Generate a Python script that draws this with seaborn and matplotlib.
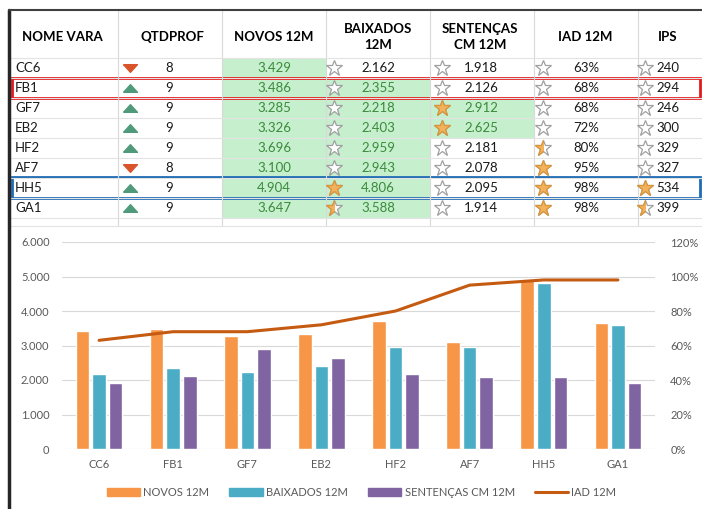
import numpy as np
import pandas as pd
import matplotlib
matplotlib.use("Agg")
import matplotlib.pyplot as plt
import seaborn as sns
from matplotlib.patches import Rectangle, Patch
from matplotlib.lines import Line2D
from matplotlib.ticker import FuncFormatter

sns.set_theme(style="white")
plt.rcParams['font.family'] = ['Lato', 'DejaVu Sans']

# dados da tabela
varas = ["CC6", "FB1", "GF7", "EB2", "HF2", "AF7", "HH5", "GA1"]
qtdprof = [8, 9, 9, 9, 9, 8, 9, 9]
novos = [3429, 3486, 3285, 3326, 3696, 3100, 4904, 3647]
baixados = [2162, 2355, 2218, 2403, 2959, 2943, 4806, 3588]
sentencas = [1918, 2126, 2912, 2625, 2181, 2078, 2095, 1914]
iad = [63, 68, 68, 72, 80, 95, 98, 98]
ips = [240, 294, 246, 300, 329, 327, 534, 399]

# estrelas: 0 vazia, 0.5 meia, 1 cheia
star_baixados = [0, 0, 0, 0, 0, 0, 1, 0.5]
star_sentencas = [0, 0, 1, 1, 0, 0, 0, 0]
star_iad = [0, 0, 0, 0, 0.5, 1, 1, 1]
star_ips = [0, 0, 0, 0, 0, 0, 1, 0.5]

# celulas em verde
verde_novos = [1, 1, 1, 1, 1, 1, 1, 1]
verde_baixados = [0, 1, 1, 1, 1, 1, 1, 1]
verde_sentencas = [0, 0, 1, 1, 0, 0, 0, 0]

destaque_vermelho = "FB1"
destaque_azul = "HH5"

series = ["NOVOS 12M", "BAIXADOS 12M", "SENTENÇAS CM 12M"]
cores = ["#F79646", "#4BACC6", "#8064A2"]
cor_linha = "#C55A11"
cinza = "#595959"


def fmt(v):
    return f"{v:,}".replace(",", ".")


fig = plt.figure(figsize=(7.02, 5.09), dpi=100)

# ---------- tabela (coordenadas em pixels) ----------
bg = fig.add_axes([0, 0, 1, 1])
bg.set_xlim(0, 702)
bg.set_ylim(509, 0)
bg.axis('off')

cols = [10, 118, 222, 326, 430, 534, 638, 702]
top_rows = 58
row_h = 20

verde_bg = "#C6EFCE"
verde_txt = "#3B8A3B"

for i in range(len(varas)):
    y0 = top_rows + i * row_h
    for c, flags in zip([2, 3, 4], [verde_novos, verde_baixados, verde_sentencas]):
        if flags[i]:
            bg.add_patch(Rectangle((cols[c], y0), cols[c + 1] - cols[c], row_h,
                                   color=verde_bg, lw=0))

# linhas da grade
for x in cols[1:-1]:
    bg.plot([x, x], [10, 226], color="#D9D9D9", lw=0.8)
for k in range(len(varas) + 1):
    y = top_rows + k * row_h
    bg.plot([10, 702], [y, y], color="#E3E3E3", lw=0.8)
bg.plot([10, 702], [226, 226], color="#E3E3E3", lw=0.8)

# cabecalho
hdr = dict(fontsize=9.5, fontweight='bold', color='black', ha='center', va='center')
bg.text(62, 37, "NOME VARA", **hdr)
bg.text(172, 37, "QTDPROF", **hdr)
bg.text(274, 37, "NOVOS 12M", **hdr)
bg.text(378, 37, "BAIXADOS\n12M", linespacing=1.35, **hdr)
bg.text(480, 37, "SENTENÇAS\nCM 12M", linespacing=1.35, **hdr)
bg.text(585, 37, "IAD 12M", **hdr)
bg.text(668, 37, "IPS", **hdr)


def estrela(x, y, nivel):
    bg.plot(x, y, marker='*', ms=12, mfc='white', mec='#A0A0A0', mew=0.9, ls='none')
    if nivel > 0:
        ln, = bg.plot(x, y, marker='*', ms=12, mfc='#F2B25C', mec='#D9953A',
                      mew=0.9, ls='none')
        if nivel < 1:
            r = Rectangle((x - 10, y - 10), 10, 20, transform=bg.transData)
            ln.set_clip_path(r)


tri_up = [(-1, -0.55), (1, -0.55), (0, 0.55), (-1, -0.55)]
tri_dn = [(-1, 0.55), (1, 0.55), (0, -0.55), (-1, 0.55)]

txt = dict(fontsize=9.5, va='center')
for i, nome in enumerate(varas):
    y = top_rows + i * row_h + row_h / 2
    bg.text(15, y, nome, ha='left', color='#1A1A1A', **txt)
    if qtdprof[i] >= 9:
        bg.plot(130, y, marker=tri_up, ms=10, color='#4F9A7A', ls='none')
    else:
        bg.plot(130, y, marker=tri_dn, ms=10, color='#D9532B', ls='none')
    bg.text(169, y, str(qtdprof[i]), ha='center', color='#1A1A1A', **txt)
    bg.text(274, y, fmt(novos[i]), ha='center',
            color=verde_txt if verde_novos[i] else '#1A1A1A', **txt)
    estrela(334, y, star_baixados[i])
    bg.text(378, y, fmt(baixados[i]), ha='center',
            color=verde_txt if verde_baixados[i] else '#1A1A1A', **txt)
    estrela(442, y, star_sentencas[i])
    bg.text(481, y, fmt(sentencas[i]), ha='center',
            color=verde_txt if verde_sentencas[i] else '#1A1A1A', **txt)
    estrela(543, y, star_iad[i])
    bg.text(586, y, f"{iad[i]}%", ha='center', color='#1A1A1A', **txt)
    estrela(645, y, star_ips[i])
    bg.text(668, y, str(ips[i]), ha='center', color='#1A1A1A', **txt)

# destaques
iv = varas.index(destaque_vermelho)
bg.add_patch(Rectangle((12, top_rows + iv * row_h), 688, row_h, fill=False,
                       ec="#E31A1C", lw=2))
ia = varas.index(destaque_azul)
bg.add_patch(Rectangle((12, top_rows + ia * row_h - 1), 688, row_h + 1, fill=False,
                       ec="#1F6BB5", lw=2))

# borda externa
bg.plot([9, 9], [10, 509], color="#262626", lw=2.5)
bg.plot([9, 702], [10, 10], color="#404040", lw=1.5)

# ---------- grafico ----------
ax = fig.add_axes([62 / 702, 60 / 509, 593 / 702, 207 / 509])
ax.patch.set_alpha(0)

df = pd.DataFrame({
    'vara': varas * 3,
    'serie': [series[0]] * 8 + [series[1]] * 8 + [series[2]] * 8,
    'valor': novos + baixados + sentencas,
})
sns.barplot(data=df, x='vara', y='valor', hue='serie', hue_order=series,
            palette=cores, saturation=1, width=0.67, gap=0.18, errorbar=None,
            legend=False, ax=ax)
ax.set_xlim(-0.5, 7.5)
ax.set_ylim(0, 6000)
ax.set_yticks(range(0, 6001, 1000))
ax.yaxis.set_major_formatter(FuncFormatter(lambda v, _: fmt(int(v))))
ax.yaxis.grid(True, color="#D9D9D9", lw=0.8)
ax.set_axisbelow(True)
for s in ax.spines.values():
    s.set_visible(False)
ax.set_xlabel("")
ax.set_ylabel("")
ax.tick_params(axis='y', length=0, pad=9, labelsize=8, labelcolor=cinza)
ax.tick_params(axis='x', length=0, pad=7, labelsize=8, labelcolor=cinza)

ax2 = ax.twinx()
sns.lineplot(x=np.arange(len(varas)), y=np.array(iad) / 100, color=cor_linha,
             lw=2.2, ax=ax2)
ax2.set_ylim(0, 1.2)
ax2.set_yticks(np.arange(0, 1.21, 0.2))
ax2.yaxis.set_major_formatter(FuncFormatter(lambda v, _: f"{int(round(v * 100))}%"))
ax2.tick_params(axis='y', length=0, pad=11, labelsize=8, labelcolor=cinza)
ax2.grid(False)
for s in ax2.spines.values():
    s.set_visible(False)
ax2.set_ylabel("")

handles = [Patch(color=c) for c in cores] + [Line2D([], [], color=cor_linha, lw=2.2)]
fig.legend(handles, series + ["IAD 12M"], loc='center',
           bbox_to_anchor=(0.515, 1 - 492 / 509), ncol=4, frameon=False,
           fontsize=8, labelcolor=cinza, handlelength=3.0, handleheight=0.7,
           handletextpad=0.3, columnspacing=1.8)

fig.savefig("out.png", dpi=100)
